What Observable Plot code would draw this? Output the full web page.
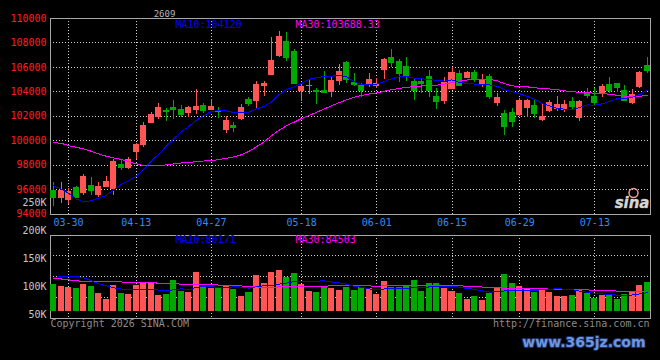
<!DOCTYPE html>
<html>
<head>
<meta charset="utf-8">
<script src="https://cdn.jsdelivr.net/npm/d3@7"></script>
<script src="https://cdn.jsdelivr.net/npm/@observablehq/plot@0.6"></script>
<style>
  html, body { margin: 0; padding: 0; background: #000; }
  #chart { position: relative; width: 660px; height: 360px; background: #000; overflow: hidden; }
  #chart svg { position: absolute; left: 0; top: 0; }
</style>
</head>
<body>
<div id="chart"></div>
<script>
// Contract daily K-line: OHLC, moving averages and volume
const contract = "2609";

const dates = [
  "03-26","03-27","03-30","03-31","04-01","04-02","04-03","04-07","04-08","04-09",
  "04-10","04-13","04-14","04-15","04-16","04-17","04-20","04-21","04-22","04-23",
  "04-24","04-27","04-28","04-29","04-30","05-06","05-07","05-08","05-11","05-12",
  "05-13","05-14","05-15","05-18","05-19","05-20","05-21","05-22","05-25","05-26",
  "05-27","05-28","05-29","06-01","06-02","06-03","06-04","06-05","06-08","06-09",
  "06-10","06-11","06-12","06-15","06-16","06-17","06-18","06-22","06-23","06-24",
  "06-25","06-26","06-29","06-30","07-01","07-02","07-03","07-06","07-07","07-08",
  "07-09","07-10","07-13","07-14","07-15","07-16","07-17","07-20","07-21","07-22"
];
const dateTicks = ["03-30","04-13","04-27","05-18","06-01","06-15","06-29","07-13"];

const open = [
  95920,95290,95160,96110,95700,96260,95590,96250,96060,98050,
  97740,99110,99680,101480,101920,102460,102710,102540,102240,102540,
  102870,102540,102460,100910,101240,101750,103360,103230,104450,105410,
  106960,108110,107290,104040,104440,104100,104100,103960,104860,106330,
  104700,104510,104590,104510,105820,106740,106410,106060,104830,104830,
  105240,103550,103230,104240,105460,105110,105570,104590,105240,103060,
  102190,102240,102140,102650,102870,101730,102410,102600,102540,103140,
  101840,103830,103550,103830,104590,104640,104100,103060,104430,106140
];
const high = [
  96550,96550,96060,96260,97230,96960,96600,97060,98480,98480,
  98640,99790,101510,102330,103060,102600,103280,102870,102790,104150,
  103050,103340,102680,101970,101480,102950,103500,104860,104830,108460,
  108920,108830,107440,104650,104970,104250,105650,105190,106230,106500,
  105460,104700,105460,105080,106740,107430,106610,106830,105060,104970,
  105740,104290,105140,105960,105740,105680,105740,105410,105410,103880,
  102460,102600,103470,103340,103340,102950,103280,103610,103280,103550,
  103280,104290,104290,104590,105190,104700,104510,104150,105680,106770
];
const low = [
  94640,94880,94770,95240,95510,95510,95370,96250,95480,97550,
  97610,98430,99460,101480,101750,101560,101750,101920,101920,102110,
  102240,102540,101780,100610,100690,101640,102820,102600,103630,105330,
  106830,106470,104590,103230,103770,102950,103830,103550,104510,104700,
  104430,103500,104370,104260,105000,106000,104780,104860,103280,103880,
  103550,102540,102950,104150,104420,105050,104780,104320,103340,102820,
  100420,101100,102000,101910,101780,101590,102270,102410,102270,102520,
  101590,103420,102820,103550,103830,103960,103230,102950,104240,105520
];
const close = [
  95290,95920,95760,95290,97060,95920,96250,96600,98240,97740,
  98450,99660,101240,102140,102710,102380,102540,102110,102650,102790,
  102460,102790,102330,101640,101020,102710,102980,104590,104670,106550,
  108520,106740,104650,104370,104480,103960,103940,104920,105650,104970,
  104560,104100,105000,104670,106610,106330,105460,105190,104040,104650,
  104040,103140,104700,105570,104510,105520,104970,104970,103550,103500,
  101150,101510,103230,103280,102190,101970,103060,102950,102950,102790,
  103200,103640,103060,104370,104100,104290,103280,103770,105520,105740
];
const ma10 = [
  96300,96060,95700,95240,94970,95100,95290,95510,95970,96407,
  96723,97097,97645,98330,98895,99541,100170,100721,101162,101667,
  102068,102381,102490,102440,102271,102304,102348,102596,102798,103174,
  103780,104175,104407,104680,105026,105151,105247,105280,105378,105220,
  104824,104560,104595,104625,104838,105075,105227,105254,105093,105061,
  105009,104913,104883,104973,104763,104682,104633,104611,104562,104447,
  104158,103995,103848,103619,103387,103032,102841,102639,102579,102508,
  102713,102926,102909,103018,103209,103441,103463,103545,103802,104120
];
const ma30 = [
  99845,99790,99600,99460,99330,99140,98920,98730,98590,98460,
  98290,98100,97960,97960,97960,98020,98100,98180,98230,98280,
  98340,98380,98450,98560,98680,98850,99130,99510,99890,100416,
  100857,101218,101514,101817,102064,102332,102588,102866,103113,103354,
  103557,103705,103831,103915,104045,104177,104274,104377,104423,104485,
  104538,104549,104628,104759,104876,104969,105036,105048,105011,104909,
  104664,104489,104442,104406,104329,104263,104234,104168,104078,104005,
  103960,103945,103880,103870,103786,103718,103646,103598,103648,103688.33
];
const volume = [
  114000,105000,102000,97000,114000,105000,76000,51000,110000,76000,
  71000,110000,117000,117000,67000,71000,131000,86000,82000,167000,
  105000,99000,100000,108000,93000,63000,82000,153000,120000,165000,
  174000,143000,162000,114000,86000,82000,105000,96000,88000,100000,
  88000,100000,96000,71000,127000,100000,100000,110000,131000,85000,
  119000,119000,99000,85000,76000,50000,63000,46000,76000,95000,
  157000,119000,104000,91000,82000,90000,81000,63000,63000,69000,
  92000,74000,54000,68000,71000,50000,71000,82000,110000,124000
];
const volMa10 = [
  143000,148000,148000,148000,143000,131000,117000,109000,100000,95000,
  90700,91200,92700,94700,90000,86600,92100,95600,92800,101900,
  105300,104200,102500,101600,104200,103400,98500,105200,109000,108800,
  115700,120100,126300,126900,126200,128100,130400,124700,121500,115000,
  106400,102100,95500,91200,95300,97100,96600,98000,102300,100800,
  103900,105800,106100,107500,102400,97400,93700,87300,81800,82800,
  86600,86600,87100,87700,88300,92300,94100,95800,94500,91900,
  85400,80900,75900,73600,72500,68500,67500,69400,74100,80171
];
const volMa30 = [
  141000,138000,134000,130000,128000,128000,128000,127000,126000,125000,
  124000,124000,123000,122000,120000,118000,117000,116000,115000,115000,
  114000,113000,112000,111000,110000,108000,106000,104000,102000,101900,
  103900,105200,107200,107700,106800,106000,107000,108500,107800,108600,
  109100,108800,108100,106600,108600,109500,108500,109300,110900,108200,
  108700,109300,109300,108500,108000,107500,106900,103300,101900,99500,
  99000,98200,96200,95500,95300,95600,94800,93700,92900,91800,
  92000,91100,89700,89600,87700,86100,85100,84200,83500,84503
];
const priceTicks = [94000, 96000, 98000, 100000, 102000, 104000, 106000, 108000, 110000];
const volumeTicks = [50000, 100000, 150000, 200000, 250000];

// Colours in the Sina terminal style
const UP = "#ff5555", DOWN = "#00a800";
const MA10_C = "#0000ff", MA30_C = "#ff00ff";
const GRID = "#cfcfcf", FRAME = "#a8a8a8";
const mono = "'DejaVu Sans Mono', monospace";

const bars = dates.map((date, i) => ({
  i, date,
  open: open[i], high: high[i], low: low[i], close: close[i],
  volume: volume[i],
  ma10: ma10[i], ma30: ma30[i],
  vma10: volMa10[i], vma30: volMa30[i],
  up: close[i] >= open[i]
}));
const tickIdx = dateTicks.map(d => dates.indexOf(d));
const xDomain = [-0.4, bars.length - 0.6];
const barColor = d => d.up ? UP : DOWN;
const W = 660, H = 360;
const base = {
  width: W, height: H, marginLeft: 50, marginRight: 10,
  style: {background: "transparent", color: "#c8c8c8", fontFamily: mono, fontSize: "10px", overflow: "visible"}
};
const dotted = {stroke: GRID, strokeOpacity: 1, strokeDasharray: "1,2", shapeRendering: "crispEdges"};

// Price panel: candles with MA10 / MA30
const pricePanel = Plot.plot({
  ...base,
  marginTop: 18, marginBottom: 146.5,
  x: {domain: xDomain, label: null},
  y: {domain: [priceTicks[0], priceTicks[priceTicks.length - 1]], label: null},
  marks: [
    Plot.gridY(priceTicks.slice(1, -1), dotted),
    Plot.gridX(tickIdx, dotted),
    Plot.frame({stroke: FRAME, shapeRendering: "crispEdges"}),
    Plot.axisY(priceTicks, {tickSize: 0, tickPadding: 4, fill: "#ff1e1e", stroke: "#ff1e1e", label: null, tickFormat: d => String(d)}),
    Plot.axisX(tickIdx, {tickSize: 0, tickPadding: 4.5, fill: "#2a8cff", stroke: "#2a8cff", label: null, tickFormat: i => dates[i]}),
    Plot.ruleX(bars, {x: "i", y1: "low", y2: "high", stroke: barColor, shapeRendering: "crispEdges"}),
    Plot.rect(bars, {
      x1: d => d.i - 0.4, x2: d => d.i + 0.4, y1: "open", y2: "close",
      fill: barColor, insetTop: -0.5, insetBottom: -0.5, shapeRendering: "crispEdges"
    }),
    Plot.line(bars, {x: "i", y: "ma30", stroke: MA30_C, strokeWidth: 1, shapeRendering: "crispEdges"}),
    Plot.line(bars, {x: "i", y: "ma10", stroke: MA10_C, strokeWidth: 1, shapeRendering: "crispEdges"}),
    Plot.text([contract], {frameAnchor: "top-left", dx: 114, dy: -8, fill: "#b4b4b4", fontSize: 9, textAnchor: "middle"}),
    Plot.text([`MA10:${ma10[ma10.length - 1]}`], {frameAnchor: "top-left", dx: 125, dy: 2, lineAnchor: "top", textAnchor: "start", fill: MA10_C}),
    Plot.text([`MA30:${ma30[ma30.length - 1]}`], {frameAnchor: "top-left", dx: 245, dy: 2, lineAnchor: "top", textAnchor: "start", fill: MA30_C}),
    Plot.dot([0], {frameAnchor: "bottom-right", dx: -17, dy: -21, r: 4.5, stroke: "#f09a9a", strokeWidth: 1.5, fill: "none"}),
    Plot.text(["sina"], {
      frameAnchor: "bottom-right", dx: -1, dy: -6, textAnchor: "end", lineAnchor: "bottom",
      fontSize: 15, fontStyle: "italic", fontWeight: "bold", fontFamily: "'DejaVu Sans', sans-serif",
      fill: "#d6d6d6", stroke: "#7a7a7a", strokeWidth: 0.6
    })
  ]
});

// Volume panel: bars with volume MA10 / MA30 (its labels come from the axis layer below)
const volDomain = [-32500, 326000];
const volGrid = [1, 2, 3].map(k => volDomain[0] + (volDomain[1] - volDomain[0]) * k / 4);
const volumePanel = Plot.plot({
  ...base,
  marginTop: 234.5, marginBottom: 41.7,
  x: {domain: xDomain, label: null, axis: null},
  y: {domain: volDomain, label: null, axis: null},
  marks: [
    Plot.gridY(volGrid, dotted),
    Plot.gridX(tickIdx, dotted),
    Plot.frame({stroke: FRAME, shapeRendering: "crispEdges"}),
    Plot.rect(bars, {x1: d => d.i - 0.4, x2: d => d.i + 0.4, y1: 0, y2: "volume", fill: barColor, shapeRendering: "crispEdges"}),
    Plot.line(bars, {x: "i", y: "vma30", stroke: MA30_C, strokeWidth: 1, shapeRendering: "crispEdges"}),
    Plot.line(bars, {x: "i", y: "vma10", stroke: MA10_C, strokeWidth: 1, shapeRendering: "crispEdges"}),
    Plot.text([`MA10:${volMa10[volMa10.length - 1]}`], {frameAnchor: "top-left", dx: 125, dy: 1, lineAnchor: "top", textAnchor: "start", fill: MA10_C}),
    Plot.text([`MA30:${volMa30[volMa30.length - 1]}`], {frameAnchor: "top-left", dx: 245, dy: 1, lineAnchor: "top", textAnchor: "start", fill: MA30_C}),
    Plot.text(["Copyright 2026 SINA.COM"], {frameAnchor: "bottom-left", dy: 8, textAnchor: "start", fill: "#8a8a8a"}),
    Plot.text(["http://finance.sina.com.cn"], {frameAnchor: "bottom-right", dx: -1, dy: 8, textAnchor: "end", fill: "#8a8a8a"}),
    Plot.text(["www.365jz.com"], {
      frameAnchor: "bottom-right", dx: -5, dy: 28, textAnchor: "end",
      fontSize: 14, fontWeight: "bold", fontFamily: "'DejaVu Sans', sans-serif",
      fill: "#6f95dd", stroke: "#1c2f66", strokeWidth: 2, paintOrder: "stroke"
    })
  ]
});

// Volume tick labels on the left edge, spaced the way the terminal prints them
const volumeAxis = Plot.plot({
  ...base,
  marginTop: 0, marginBottom: 0,
  y: {domain: [0, 250000], range: [342.1, 202.6], label: null},
  marks: [
    Plot.axisY(volumeTicks, {tickSize: 0, tickPadding: 4, fill: "#c8c8c8", stroke: "#c8c8c8", label: null, tickFormat: d => `${d / 1000}K`})
  ]
});

const root = document.getElementById("chart");
root.append(pricePanel, volumePanel, volumeAxis);
</script>
</body>
</html>
